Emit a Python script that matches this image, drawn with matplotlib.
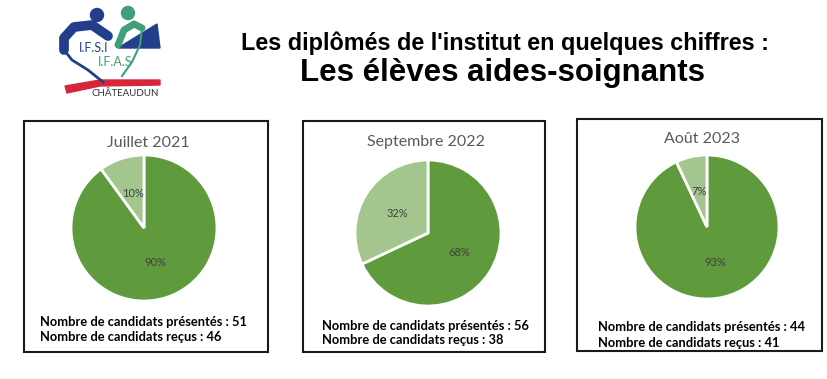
import matplotlib.pyplot as plt
import matplotlib.patches as patches

# Data
periodes = ["Juillet 2021", "Septembre 2022", "Août 2023"]
presentes = [51, 56, 44]
recus = [46, 38, 41]
pct_recus = [90, 68, 93]
pct_non_recus = [10, 32, 7]

W, H = 827, 379
DARK = '#5f9a3c'
LIGHT = '#a3c68e'

fig = plt.figure(figsize=(W / 100, H / 100), dpi=100)
fig.patch.set_facecolor('white')

# overlay axes in pixel coords (y down) for boxes / logo
bg = fig.add_axes([0, 0, 1, 1])
bg.set_xlim(0, W)
bg.set_ylim(H, 0)
bg.axis('off')


def fx(x):
    return x / W


def fy(y):
    return 1 - y / H


# panel geometry in pixels
panels = [
    dict(box=(24, 121, 268, 352), c=(144, 228), r=73, ty=143, tx=40, ly=(322, 337)),
    dict(box=(303, 121, 545, 352), c=(428, 233), r=73, ty=142, tx=322, ly=(326, 340)),
    dict(box=(577, 119, 822, 351), c=(707, 227), r=72, ty=139, tx=598, ly=(327, 343)),
]

for i, p in enumerate(panels):
    x0, y0, x1, y1 = p["box"]
    bg.add_patch(patches.Rectangle((x0, y0), x1 - x0, y1 - y0, fill=False,
                                   edgecolor='#1a1a1a', linewidth=1.5))
    cx, cy = p["c"]
    r = p["r"]
    ax = fig.add_axes([fx(cx - r), fy(cy + r), 2 * r / W, 2 * r / H])
    ax.pie([pct_recus[i], pct_non_recus[i]], colors=[DARK, LIGHT], startangle=90,
           counterclock=False, radius=1,
           wedgeprops=dict(edgecolor='white', linewidth=2),
           autopct=lambda v: f"{v:.0f}%", pctdistance=0.5,
           textprops=dict(fontsize=8, color='#404040', family='Lato'))
    ax.set_xlim(-1, 1)
    ax.set_ylim(-1, 1)
    ax.set_aspect('equal')
    ax.axis('off')

    bg.text((x0 + x1) / 2 + 2, p["ty"], periodes[i], ha='center', va='center',
            fontsize=11.5, color='#595959', family='Lato')
    bg.text(p["tx"], p["ly"][0], f"Nombre de candidats présentés : {presentes[i]}",
            ha='left', va='center', fontsize=9.3, fontweight='bold', family='Lato', color='black')
    bg.text(p["tx"], p["ly"][1], f"Nombre de candidats reçus : {recus[i]}",
            ha='left', va='center', fontsize=9.3, fontweight='bold', family='Lato', color='black')

# main titles
bg.text(505, 43, "Les diplômés de l'institut en quelques chiffres :", ha='center', va='center',
        fontsize=16.8, fontweight='bold', family='Liberation Sans', color='black')
bg.text(502, 73, "Les élèves aides-soignants", ha='center', va='center',
        fontsize=22.5, fontweight='bold', family='Liberation Sans', color='black')

# rough logo
BLUE = '#233f8c'
GREEN = '#3f9f78'
RED = '#d7263a'
bg.add_patch(patches.Circle((97, 15), 6.5, color=BLUE))
bg.add_patch(patches.Circle((128, 13), 6.5, color=GREEN))
bg.plot([108, 92, 74, 64, 64], [36, 25, 27, 38, 50], color=BLUE, lw=7, solid_capstyle='round')
bg.plot([64, 72, 88, 103], [50, 60, 70, 82], color=BLUE, lw=2)
bg.plot([118, 124, 134, 142], [45, 30, 24, 28], color=GREEN, lw=5, solid_capstyle='round')
bg.plot([142, 140, 132, 122], [28, 45, 62, 76], color=GREEN, lw=1.5)
bg.add_patch(patches.Polygon([[118, 48], [157, 24], [160, 48]], color=BLUE))
bg.text(79, 48, "I.F.S.I", color=BLUE, fontsize=9, family='Lato', ha='left', va='center')
bg.text(98, 62, "I.F.A.S", color=GREEN, fontsize=9, family='Lato', ha='left', va='center')
bg.add_patch(patches.Polygon([[65, 86], [100, 80], [160, 80], [160, 85], [100, 86], [67, 93]],
                             color=RED))
bg.text(125, 93, "CHÂTEAUDUN", color='#333333', fontsize=7, family='Lato', ha='center', va='center')

fig.savefig('out.png', dpi=100)
